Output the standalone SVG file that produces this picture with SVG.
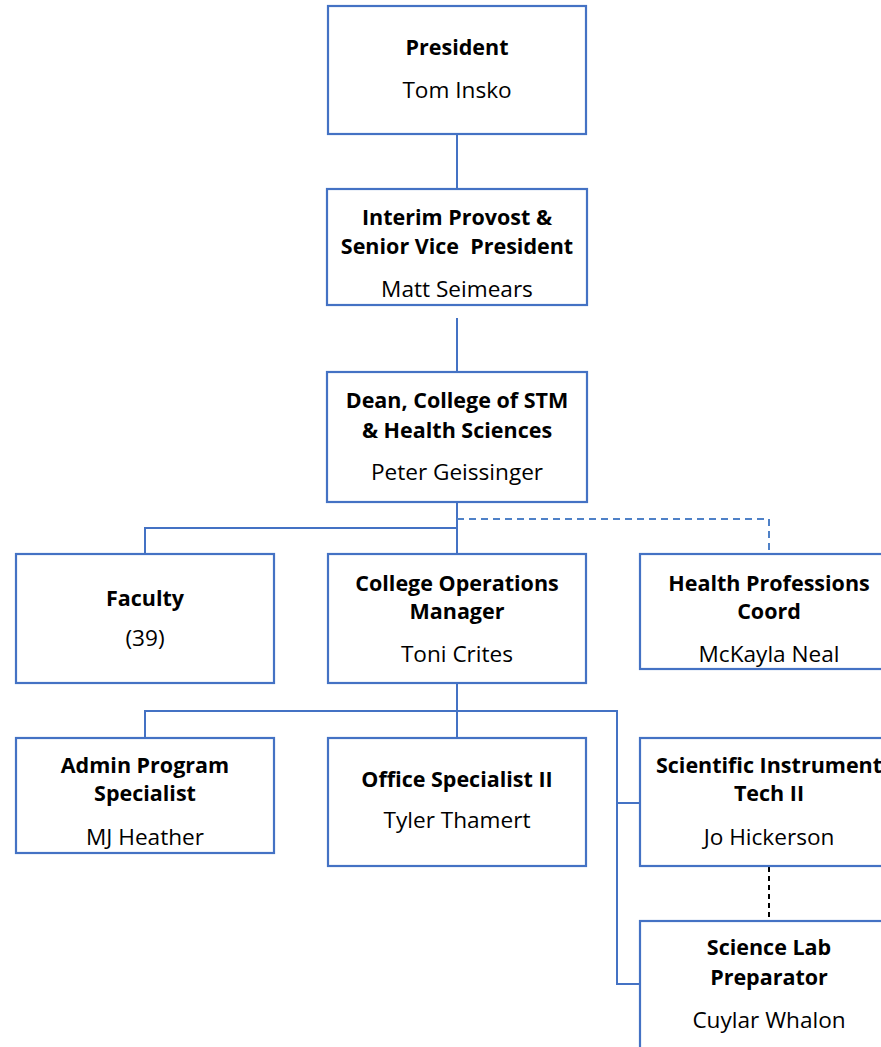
<svg xmlns="http://www.w3.org/2000/svg" width="881" height="1047" viewBox="0 0 881 1047">
<style>
.box{fill:#fff;stroke:#4472C4;stroke-width:2.2}
.ln{fill:none;stroke:#4472C4;stroke-width:2}
.dash{fill:none;stroke:#4F81C7;stroke-width:2;stroke-dasharray:7 5}
.kdash{fill:none;stroke:#000;stroke-width:2;stroke-dasharray:5 4}
text{font-family:"Open Sans","Liberation Sans",sans-serif;font-size:22.6px;fill:#000;text-anchor:middle}
.b{font-weight:bold;font-size:21.5px}
</style>
<rect width="881" height="1047" fill="#fff"/>
<g id="connectors">
<line class="ln" x1="457" y1="134" x2="457" y2="189"/>
<line class="ln" x1="457" y1="318" x2="457" y2="372"/>
<line class="ln" x1="457" y1="502" x2="457" y2="554"/>
<polyline class="ln" points="145,554 145,528 457,528"/>
<polyline class="dash" points="457,519 769,519 769,554"/>
<line class="ln" x1="457" y1="683" x2="457" y2="738"/>
<polyline class="ln" points="145,738 145,711 617,711 617,984 640,984"/>
<line class="ln" x1="617" y1="803" x2="640" y2="803"/>
<line class="kdash" x1="769" y1="867" x2="769" y2="917"/>
</g>
<g id="president">
<rect class="box" x="328" y="6" width="258" height="128"/>
<text class="b" x="457" y="55">President</text>
<text x="457" y="98">Tom Insko</text>
</g>
<g id="provost">
<rect class="box" x="327" y="189" width="260" height="116"/>
<text class="b" x="457" y="225">Interim Provost &amp;</text>
<text class="b" x="457" y="254" xml:space="preserve">Senior Vice  President</text>
<text x="457" y="297">Matt Seimears</text>
</g>
<g id="dean">
<rect class="box" x="327" y="372" width="260" height="130"/>
<text class="b" x="457" y="408">Dean, College of STM</text>
<text class="b" x="457" y="438">&amp; Health Sciences</text>
<text x="457" y="480">Peter Geissinger</text>
</g>
<g id="faculty">
<rect class="box" x="16" y="554" width="258" height="129"/>
<text class="b" x="145" y="606">Faculty</text>
<text x="145" y="646">(39)</text>
</g>
<g id="college-ops">
<rect class="box" x="328" y="554" width="258" height="129"/>
<text class="b" x="457" y="591">College Operations</text>
<text class="b" x="457" y="619">Manager</text>
<text x="457" y="662">Toni Crites</text>
</g>
<g id="health">
<rect class="box" x="640" y="554" width="258" height="115"/>
<text class="b" x="769" y="591">Health Professions</text>
<text class="b" x="769" y="619">Coord</text>
<text x="769" y="662">McKayla Neal</text>
</g>
<g id="admin">
<rect class="box" x="16" y="738" width="258" height="115"/>
<text class="b" x="145" y="773">Admin Program</text>
<text class="b" x="145" y="801">Specialist</text>
<text x="145" y="845">MJ Heather</text>
</g>
<g id="office">
<rect class="box" x="328" y="738" width="258" height="128"/>
<text class="b" x="457" y="787">Office Specialist II</text>
<text x="457" y="828">Tyler Thamert</text>
</g>
<g id="sci-instr">
<rect class="box" x="640" y="738" width="258" height="128"/>
<text class="b" x="769" y="773">Scientific Instrument</text>
<text class="b" x="769" y="801">Tech II</text>
<text x="769" y="845">Jo Hickerson</text>
</g>
<g id="science-lab">
<rect class="box" x="640" y="921" width="258" height="140"/>
<text class="b" x="769" y="955">Science Lab</text>
<text class="b" x="769" y="985">Preparator</text>
<text x="769" y="1028">Cuylar Whalon</text>
</g>
</svg>
